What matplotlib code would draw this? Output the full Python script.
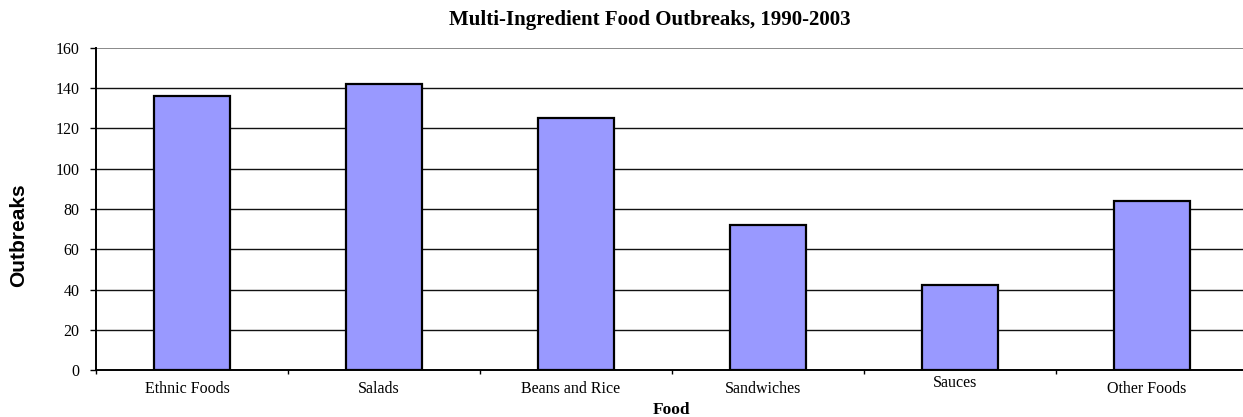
import matplotlib
matplotlib.use("Agg")
import matplotlib.pyplot as plt
from matplotlib.transforms import ScaledTranslation
import numpy as np

categories = ["Ethnic Foods", "Salads", "Beans and Rice", "Sandwiches", "Sauces", "Other Foods"]
outbreaks = [136, 142, 125, 72, 42, 84]
yticks = [0, 20, 40, 60, 80, 100, 120, 140, 160]

plt.rcParams['font.family'] = ['Liberation Serif', 'DejaVu Serif']

W, H = 1243, 417
fig = plt.figure(figsize=(W / 100, H / 100), dpi=100)
ax = fig.add_axes([96 / W, (H - 370) / H, 1152 / W, 322 / H])

x = np.arange(len(categories))
ax.bar(x, outbreaks, width=0.40, color='#9999FF', edgecolor='black', linewidth=1.6, zorder=3)

ax.set_xlim(-0.5, len(categories) - 0.5)
ax.set_ylim(0, 160)
ax.set_yticks(yticks)
ax.set_yticklabels([str(v) for v in yticks], fontsize=11.5)
for v in yticks[1:-1]:
    ax.axhline(v, color='#111111', linewidth=1.0, zorder=1)
ax.axhline(yticks[-1], color='#808080', linewidth=1.3, zorder=1)

ax.set_xticks(x)
ax.set_xticklabels(categories, fontsize=11.5)
ax.tick_params(axis='x', which='major', length=0, pad=8)
ax.set_xticks(np.arange(len(categories) + 1) - 0.5, minor=True)
ax.tick_params(axis='x', which='minor', length=3, direction='out', width=1)
ax.tick_params(axis='y', length=4.3, direction='out', width=1, pad=7.5)

for lab in ax.get_xticklabels():
    dy = 6 if lab.get_text() == "Sauces" else 0
    lab.set_transform(lab.get_transform() + ScaledTranslation(-5 / 100, dy / 100, fig.dpi_scale_trans))

for s in ['top', 'right']:
    ax.spines[s].set_visible(False)
ax.spines['left'].set_linewidth(1.4)
ax.spines['bottom'].set_linewidth(1.4)

fig.text(650 / W, 1 - 25 / H, "Multi-Ingredient Food Outbreaks, 1990-2003",
         fontsize=15, fontweight='bold', ha='center', va='baseline')
fig.text(672 / W, 1 - 414 / H, "Food", fontsize=12.5, fontweight='bold', ha='center', va='baseline')
fig.text(18.5 / W, 1 - 235 / H, "Outbreaks", fontsize=15, fontweight='bold',
         family=['Liberation Sans', 'DejaVu Sans'], rotation=90, ha='center', va='center')

fig.savefig("out.png", dpi=100)
